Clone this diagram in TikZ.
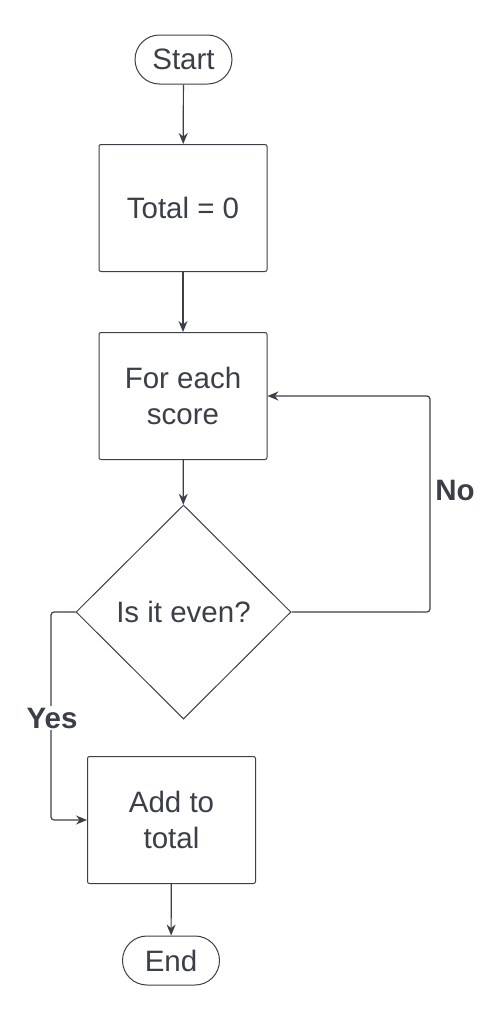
\documentclass[tikz,border=0pt]{standalone}
\usepackage{fontspec}
\setmainfont{Liberation Sans}
\usetikzlibrary{shapes.geometric,shapes.misc,arrows.meta}
\definecolor{ink}{HTML}{3A3F48}
\begin{document}
\begin{tikzpicture}[x=1pt,y=-1pt,every node/.style={font=\fontsize{29.5}{36}\selectfont, text=ink},
	box/.style={draw=ink, line width=1pt, rounded corners=2pt, minimum width=168pt, minimum height=127pt, align=center},
	pill/.style={draw=ink, line width=1pt, rounded rectangle, inner sep=0pt, minimum width=97pt, minimum height=49pt},
	flow/.style={draw=ink, line width=1.2pt, rounded corners=3pt, -{Stealth[length=11pt,width=9pt]}},
	lbl/.style={font=\fontsize{29.5}{36}\selectfont\bfseries}]
	\useasboundingbox (0,0) rectangle (499,1021);
	\node[pill] (start) at (183.5,59.5) {Start};
	\node[box] (total) at (183,208) {Total = 0};
	\node[box] (each) at (183,396) {For each\\score};
	\node[draw=ink, line width=1pt, diamond, inner sep=0pt, minimum width=215pt, minimum height=214pt] (even) at (183.5,612) {Is it even?};
	\node[box] (add) at (171.5,820) {Add to\\total};
	\node[pill] (end) at (171,960.5) {End};
	\draw[flow] (start) -- (total);
	\draw[flow] (total) -- (each);
	\draw[flow] (each) -- (even);
	\draw[flow] (even.east) -- ++(138.5,0) |- (each.east);
	\draw[flow] (even.west) -- ++(-24.5,0) |- (add.west);
	\draw[flow] (add) -- (end);
	\node[lbl] (no) at (455,490) {No};
	\node[lbl, fill=white, inner sep=2pt] (yes) at (52,718) {Yes};
\end{tikzpicture}
\end{document}
